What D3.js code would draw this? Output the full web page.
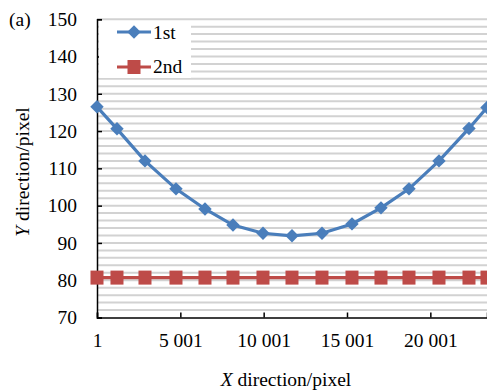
<!DOCTYPE html>
<html><head><meta charset="utf-8">
<script src="https://cdn.jsdelivr.net/npm/d3@7"></script>
<style>
html,body{margin:0;padding:0;background:#fff;}
svg{display:block;font-family:"Liberation Serif","Times New Roman",serif;}
</style></head>
<body><svg id="c" width="487" height="391"></svg>
<script>
const xPos = [1, 1200, 2880, 4740, 6480, 8160, 9960, 11700, 13500, 15300, 17040, 18720, 20520, 22320, 23400];
const first = [126.5, 120.6, 112.0, 104.5, 99.1, 94.8, 92.6, 91.9, 92.6, 95.1, 99.4, 104.5, 112.0, 120.7, 126.3];
const second = [80.7, 80.7, 80.7, 80.7, 80.7, 80.7, 80.7, 80.7, 80.7, 80.7, 80.7, 80.7, 80.7, 80.7, 80.7];
const xTicks = [1, 5001, 10001, 15001, 20001];
const xTickLabels = ["1", "5 001", "10 001", "15 001", "20 001"];
const yTicks = [70, 80, 90, 100, 110, 120, 130, 140, 150];
const seriesNames = ["1st", "2nd"];

const FS = 19.5;
const FF = "'Liberation Serif','Times New Roman',serif";
const svg = d3.select("#c");
const x = d3.scaleLinear().domain([1, 23401]).range([97, 487]);
const y = d3.scaleLinear().domain([70, 150]).range([317.5, 19.2]);

// gridlines every 2 units
const grid = d3.range(72, 151, 2);
svg.append("g").selectAll("line").data(grid).join("line")
  .attr("x1", 97).attr("x2", 487)
  .attr("y1", d => y(d)).attr("y2", d => y(d))
  .attr("stroke", "#d2d2d2").attr("stroke-width", 2);

// axes
const yAxis = d3.axisLeft(y).tickValues(yTicks).tickSize(-5).tickPadding(20).tickFormat(d3.format("d"));
const gy = svg.append("g").attr("transform", "translate(97,0)").call(yAxis);
gy.select(".domain").attr("stroke", "#000").attr("stroke-width", 1.5);
gy.selectAll(".tick line").attr("stroke", "#000").attr("stroke-width", 1.5);
gy.selectAll(".tick text").attr("font-size", FS).attr("fill", "#000").attr("font-family", FF);

const xAxis = d3.axisBottom(x).tickValues(xTicks).tickSize(-5).tickPadding(16)
  .tickFormat((d, i) => xTickLabels[i]);
const gx = svg.append("g").attr("transform", "translate(0,317.5)").call(xAxis);
gx.select(".domain").attr("stroke", "#000").attr("stroke-width", 1.5);
gx.selectAll(".tick line").attr("stroke", "#000").attr("stroke-width", 1.5);
gx.selectAll(".tick text").attr("font-size", FS).attr("fill", "#000").attr("font-family", FF);

const blue = "#4a7ebb", red = "#be4b48";
const line = d3.line().x((d, i) => x(xPos[i])).y(d => y(d));

// series 2
svg.append("path").datum(second).attr("d", line)
  .attr("fill", "none").attr("stroke", red).attr("stroke-width", 3.2);
svg.append("g").selectAll("rect").data(second).join("rect")
  .attr("x", (d, i) => x(xPos[i]) - 6.5).attr("y", d => y(d) - 7)
  .attr("width", 13).attr("height", 14).attr("fill", red);

// series 1
svg.append("path").datum(first).attr("d", line)
  .attr("fill", "none").attr("stroke", blue).attr("stroke-width", 3.2);
const diamond = d3.symbol().type(d3.symbolDiamond2).size(115);
svg.append("g").selectAll("path").data(first).join("path")
  .attr("d", diamond)
  .attr("transform", (d, i) => `translate(${x(xPos[i])},${y(d)})`)
  .attr("fill", blue);

// legend
const lg = svg.append("g");
lg.append("rect").attr("x", 99).attr("y", 21).attr("width", 92).attr("height", 57).attr("fill", "#fff");
lg.append("line").attr("x1", 117).attr("x2", 151).attr("y1", 32).attr("y2", 32).attr("stroke", blue).attr("stroke-width", 3.2);
lg.append("path").attr("d", diamond).attr("transform", "translate(134,32)").attr("fill", blue);
lg.append("text").attr("x", 153).attr("y", 38.5).attr("font-size", FS).text(seriesNames[0]);
lg.append("line").attr("x1", 117).attr("x2", 151).attr("y1", 67).attr("y2", 67).attr("stroke", red).attr("stroke-width", 3.2);
lg.append("rect").attr("x", 127.5).attr("y", 60).attr("width", 13).attr("height", 14).attr("fill", red);
lg.append("text").attr("x", 153).attr("y", 73).attr("font-size", FS).text(seriesNames[1]);

// labels
svg.append("text").attr("x", 9).attr("y", 26).attr("font-size", FS).text("(a)");
const yl = svg.append("text").attr("transform", "translate(29,172) rotate(-90)")
  .attr("text-anchor", "middle").attr("font-size", FS);
yl.append("tspan").attr("font-style", "italic").text("Y");
yl.append("tspan").text(" direction/pixel");
const xl = svg.append("text").attr("x", 286).attr("y", 386)
  .attr("text-anchor", "middle").attr("font-size", FS);
xl.append("tspan").attr("font-style", "italic").text("X");
xl.append("tspan").text(" direction/pixel");
</script></body></html>
